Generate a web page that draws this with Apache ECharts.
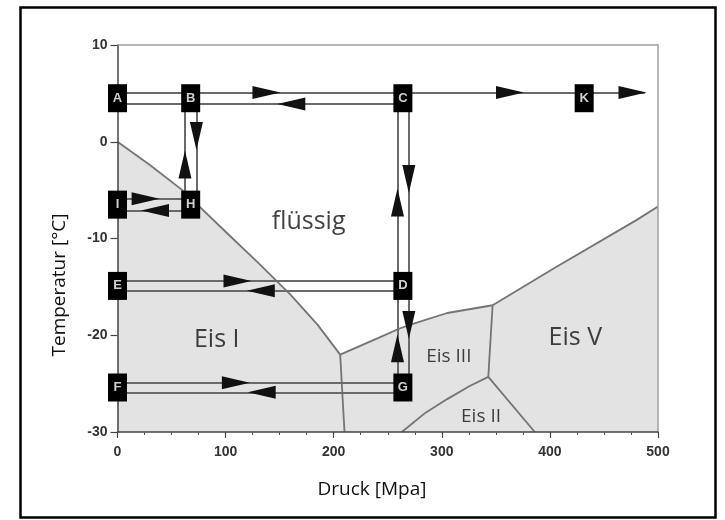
<!DOCTYPE html>
<html><head><meta charset="utf-8">
<script src="https://cdn.jsdelivr.net/npm/echarts@6/dist/echarts.min.js"></script>
<style>html,body{margin:0;padding:0;background:#fff}#c{width:725px;height:520px}</style>
</head><body><div id="c"></div>
<script>
// ---- axis ticks ----
const xTicks = [0, 100, 200, 300, 400, 500];
const yTicks = [-30, -20, -10, 0, 10];

// ---- phase boundaries [pressure MPa, temperature °C] ----
const meltIceI   = [[0, 0], [30, -2.4], [60, -5.0], [100, -9.3], [130, -12.5], [160, -15.8], [185, -18.9], [206, -22.0]];
const meltIceIII = [[206, -22.0], [243, -20.2], [261, -19.3], [274, -18.8], [305, -17.7], [347, -16.9]];
const meltIceV   = [[347, -16.9], [405, -13.0], [480, -8.1], [500, -6.7]];
const lineIceI_III  = [[206, -22.0], [210, -30]];
const lineIceIII_V  = [[347, -16.9], [343, -24.3]];
const lineIceII_III = [[343, -24.3], [325, -25.3], [305, -26.6], [285, -28.0], [263, -30]];
const lineIceII_V   = [[343, -24.3], [386, -30]];

// ---- region names ----
const regionNames = ['flüssig', 'Eis I', 'Eis V', 'Eis III', 'Eis II'];
const regionP     = [176.8, 91.8, 423.5, 306.5, 336.3];
const regionT     = [-8.3, -20.5, -20.3, -22.25, -28.4];

// ---- states ----
const stateLabels = ['A', 'B', 'C', 'K', 'I', 'H', 'E', 'D', 'F', 'G'];
const stateP      = [0, 67.7, 264, 431.7, 0, 67.7, 0, 264, 0, 264];
const stateT      = [4.5, 4.5, 4.5, 4.5, -6.5, -6.5, -14.9, -14.9, -25.4, -25.4];

// ---- process paths [p1, t1, p2, t2] ----
const pathSegments = [
  [0, 5.1, 488, 5.1],
  [0, 3.9, 264, 3.9],
  [62.4, 4.5, 62.4, -6.5],
  [73, 4.5, 73, -6.5],
  [0, -5.9, 67.7, -5.9],
  [0, -7.1, 67.7, -7.1],
  [259, 4.5, 259, -25.4],
  [269.5, 4.5, 269.5, -25.4],
  [0, -14.4, 264, -14.4],
  [0, -15.4, 264, -15.4],
  [0, -24.9, 264, -24.9],
  [0, -25.9, 264, -25.9]
];

// ---- arrows ----
const arrowP   = [137.8, 363.1, 476.4, 160.8, 73, 62.4, 26, 34.7, 269.5, 259, 269.5, 259, 111, 132.6, 109.5, 133.4];
const arrowT   = [5.1, 5.1, 5.1, 3.9, 0.6, -2.35, -5.9, -7.1, -3.85, -6.28, -18.94, -21.35, -14.4, -15.4, -24.9, -25.9];
const arrowDir = ['r', 'r', 'r', 'l', 'd', 'u', 'r', 'l', 'd', 'u', 'd', 'u', 'r', 'l', 'r', 'l'];

const rot = { r: -90, l: 90, u: 0, d: 180 };
const liquidus = meltIceI.concat(meltIceIII.slice(1), meltIceV.slice(1));
const boundaryStyle = { color: '#747474', width: 1.8 };

const chart = echarts.init(document.getElementById('c'), null, { renderer: 'canvas' });

const boundarySeries = [lineIceI_III, lineIceIII_V, lineIceII_III, lineIceII_V].map(d => ({
  type: 'line', data: d, symbol: 'none', silent: true, z: 3,
  lineStyle: boundaryStyle, animation: false
}));

const option = {
  animation: false,
  grid: { left: 117.5, top: 45, width: 540.5, height: 387, containLabel: false },
  xAxis: [{
    type: 'value', min: 0, max: 500, interval: 100, z: 10,
    axisLine: { show: true, onZero: false, lineStyle: { color: '#444', width: 1.5 } },
    axisTick: { show: true, length: 6, lineStyle: { color: '#444', width: 1.2 } },
    minorTick: { show: true, splitNumber: 4, length: 3, lineStyle: { color: '#555', width: 1 } },
    splitLine: { show: false },
    axisLabel: { margin: 13, color: '#333', fontSize: 14, fontWeight: 'bold', fontFamily: 'Liberation Sans',
      formatter: v => xTicks.includes(v) ? String(v) : '' }
  }, {
    type: 'value', min: 0, max: 500, position: 'top', z: 10,
    axisLine: { show: true, onZero: false, lineStyle: { color: '#a0a0a0', width: 1.5 } },
    axisTick: { show: false }, axisLabel: { show: false }, splitLine: { show: false }
  }],
  yAxis: [{
    type: 'value', min: -30, max: 10, interval: 10, z: 10,
    axisLine: { show: true, onZero: false, lineStyle: { color: '#444', width: 1.5 } },
    axisTick: { show: true, length: 7, lineStyle: { color: '#444', width: 1.2 } },
    splitLine: { show: false },
    axisLabel: { margin: 10, color: '#333', fontSize: 14, fontWeight: 'bold', fontFamily: 'Liberation Sans',
      formatter: v => yTicks.includes(v) ? String(v) : '' }
  }, {
    type: 'value', min: -30, max: 10, position: 'right', z: 10,
    axisLine: { show: true, onZero: false, lineStyle: { color: '#a0a0a0', width: 1.5 } },
    axisTick: { show: false }, axisLabel: { show: false }, splitLine: { show: false }
  }],
  graphic: [
    { type: 'rect', shape: { x: 20.5, y: 7.5, width: 695, height: 510 },
      style: { fill: 'none', stroke: '#000', lineWidth: 2.5 }, z: 100 },
    { type: 'text', x: 60, y: 285, rotation: Math.PI / 2,
      style: { text: 'Temperatur [°C]', fill: '#111', font: '19px "Open Sans"', align: 'center', verticalAlign: 'middle' } },
    { type: 'text', x: 372, y: 490,
      style: { text: 'Druck [Mpa]', fill: '#111', font: '19px "Open Sans"', align: 'center', verticalAlign: 'middle' } }
  ],
  series: [
    {
      type: 'line', data: liquidus, symbol: 'none', silent: true, z: 2,
      lineStyle: boundaryStyle,
      areaStyle: { color: '#e3e3e3', opacity: 1, origin: 'start' }
    },
    ...boundarySeries,
    {
      type: 'lines', coordinateSystem: 'cartesian2d', silent: true, z: 4,
      lineStyle: { color: '#6a6a6a', width: 2, opacity: 1 },
      data: pathSegments.map(s => ({ coords: [[s[0], s[1]], [s[2], s[3]]] }))
    },
    {
      type: 'scatter', silent: true, z: 15, symbol: 'triangle', symbolSize: [13, 28],
      itemStyle: { color: '#111', opacity: 1 },
      data: arrowP.map((p, i) => ({ value: [p, arrowT[i]], symbolRotate: rot[arrowDir[i]] }))
    },
    {
      type: 'scatter', silent: true, z: 20, symbol: 'rect', symbolSize: [19, 28],
      itemStyle: { color: '#000', opacity: 1 },
      label: { show: true, position: 'inside', formatter: p => p.name, color: '#d0d0d0',
        fontSize: 13, fontWeight: 'bold', fontFamily: 'Liberation Sans' },
      data: stateLabels.map((n, i) => ({ name: n, value: [stateP[i], stateT[i]] }))
    },
    {
      type: 'scatter', silent: true, z: 21, symbolSize: 0,
      label: { show: true, position: 'inside', formatter: p => p.name, color: '#111', fontFamily: 'Open Sans' },
      data: regionNames.map((n, i) => ({
        name: n, value: [regionP[i], regionT[i]],
        label: { fontSize: i < 3 ? 25 : 19 }
      }))
    }
  ]
};
chart.setOption(option);
</script>
</body></html>
